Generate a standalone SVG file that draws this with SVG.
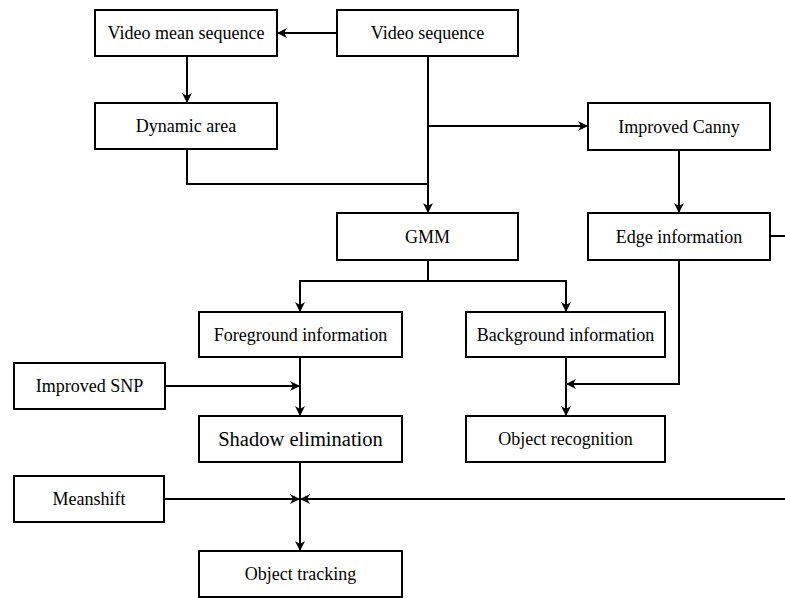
<svg xmlns="http://www.w3.org/2000/svg" width="785" height="598" viewBox="0 0 785 598">
<style>
.box{fill:#fff;stroke:#000;stroke-width:2}
.t{font-family:"Liberation Serif","Times New Roman",serif;font-size:18px;fill:#000;text-anchor:middle;dominant-baseline:central}
.big{font-size:20.5px}
.c{fill:none;stroke:#000;stroke-width:2}
</style>
<defs>
<marker id="ah" markerWidth="10" markerHeight="10" refX="9" refY="5" orient="auto" markerUnits="userSpaceOnUse">
<path d="M0,0 L10,5 L0,10 L3,5 Z" fill="#000"/>
</marker>
</defs>
<rect width="785" height="598" fill="#fff"/>
<g id="connectors">
<line class="c" x1="337" y1="33" x2="278" y2="33" marker-end="url(#ah)"/>
<line class="c" x1="187" y1="56" x2="187" y2="102" marker-end="url(#ah)"/>
<line class="c" x1="428" y1="56" x2="428" y2="212" marker-end="url(#ah)"/>
<line class="c" x1="428" y1="126" x2="587" y2="126" marker-end="url(#ah)"/>
<polyline class="c" points="187,149 187,184 428,184"/>
<line class="c" x1="679" y1="150" x2="679" y2="212" marker-end="url(#ah)"/>
<polyline class="c" points="428,260 428,281 300,281 300,311" marker-end="url(#ah)"/>
<polyline class="c" points="428,281 566,281 566,311" marker-end="url(#ah)"/>
<line class="c" x1="300" y1="357" x2="300" y2="415" marker-end="url(#ah)"/>
<line class="c" x1="165" y1="386" x2="299" y2="386" marker-end="url(#ah)"/>
<line class="c" x1="566" y1="357" x2="566" y2="415" marker-end="url(#ah)"/>
<polyline class="c" points="770,236 785,236"/>
<polyline class="c" points="679,260 679,384 567,384" marker-end="url(#ah)"/>
<line class="c" x1="300" y1="462" x2="300" y2="550" marker-end="url(#ah)"/>
<line class="c" x1="164" y1="499" x2="299" y2="499" marker-end="url(#ah)"/>
<line class="c" x1="785" y1="499" x2="301" y2="499" marker-end="url(#ah)"/>
</g>
<g id="video-mean-sequence"><rect class="box" x="95" y="10" width="182" height="46"/><text class="t" x="186" y="33">Video mean sequence</text></g>
<g id="video-sequence"><rect class="box" x="337" y="10" width="181" height="46"/><text class="t" x="427.5" y="33">Video sequence</text></g>
<g id="dynamic-area"><rect class="box" x="95" y="103" width="182" height="46"/><text class="t" x="186" y="126">Dynamic area</text></g>
<g id="improved-canny"><rect class="box" x="588" y="103" width="182" height="47"/><text class="t" x="679" y="126.5">Improved Canny</text></g>
<g id="gmm"><rect class="box" x="337" y="213" width="181" height="47"/><text class="t" x="427.5" y="236.5">GMM</text></g>
<g id="edge-information"><rect class="box" x="588" y="213" width="182" height="47"/><text class="t" x="679" y="236.5">Edge information</text></g>
<g id="foreground-information"><rect class="box" x="199" y="312" width="203" height="45"/><text class="t" x="300.5" y="334.5">Foreground information</text></g>
<g id="background-information"><rect class="box" x="466" y="312" width="199" height="45"/><text class="t" x="565.5" y="334.5">Background information</text></g>
<g id="improved-snp"><rect class="box" x="14" y="363" width="151" height="46"/><text class="t" x="89.5" y="386">Improved SNP</text></g>
<g id="shadow-elimination"><rect class="box" x="199" y="416" width="203" height="46"/><text class="t big" x="300.5" y="439">Shadow elimination</text></g>
<g id="object-recognition"><rect class="box" x="466" y="416" width="199" height="46"/><text class="t" x="565.5" y="439">Object recognition</text></g>
<g id="meanshift"><rect class="box" x="14" y="476" width="150" height="46"/><text class="t" x="89" y="499">Meanshift</text></g>
<g id="object-tracking"><rect class="box" x="199" y="551" width="203" height="46"/><text class="t" x="300.5" y="574">Object tracking</text></g>
</svg>
